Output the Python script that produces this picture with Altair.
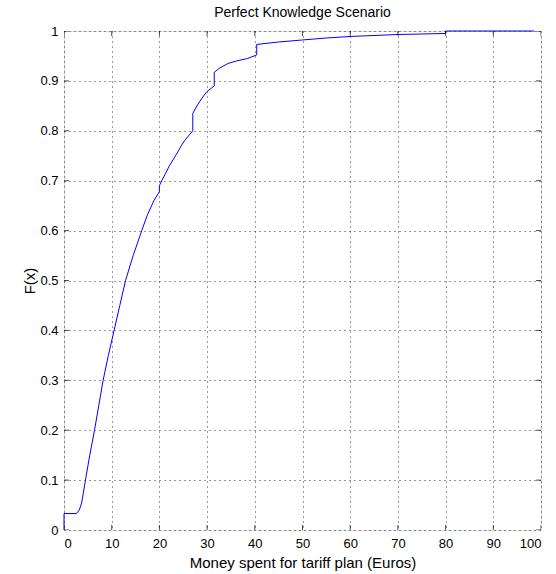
import altair as alt
import pandas as pd

money = [0, 0, 2.6, 3.2, 3.7, 4.5, 5.4, 6.4, 7.3, 8.2, 9.3, 10.5, 11.7, 12.9,
         14.5, 16.3, 17.5, 18.9, 20.0, 20.0, 20.5, 22.0, 24.0, 24.7, 25.5, 27.0,
         27.0, 28.0, 28.9, 29.9, 31.5, 31.5, 32.5, 34.4, 36.2, 38.5, 40.4, 40.4,
         45, 50, 55, 60, 65, 70, 75, 80, 80, 90, 98.5]
cdf = [0, 0.033, 0.033, 0.040, 0.054, 0.10, 0.15, 0.20, 0.25, 0.30, 0.35, 0.40,
       0.45, 0.50, 0.55, 0.60, 0.632, 0.661, 0.678, 0.690, 0.700, 0.728, 0.760,
       0.772, 0.783, 0.800, 0.835, 0.852, 0.865, 0.878, 0.890, 0.917, 0.925,
       0.935, 0.940, 0.945, 0.952, 0.973, 0.978, 0.982, 0.986, 0.989, 0.991,
       0.993, 0.994, 0.995, 1.0, 1.0, 1.0]
x_ticks = [0, 10, 20, 30, 40, 50, 60, 70, 80, 90, 100]
y_ticks = [0, 0.1, 0.2, 0.3, 0.4, 0.5, 0.6, 0.7, 0.8, 0.9, 1]

df = pd.DataFrame({"x": money, "F": cdf, "i": list(range(len(money)))})
xt = pd.DataFrame({"t": x_ticks})
yt = pd.DataFrame({"t": y_ticks})

FONT = "Liberation Sans"
W, H = 477, 499
xs = alt.Scale(domain=[0, 100], nice=False, zero=False)
ys = alt.Scale(domain=[0, 1], nice=False, zero=False)

main = alt.Chart(df).mark_line(color="#0000ff", strokeWidth=1).encode(
    x=alt.X("x:Q", scale=xs, axis=alt.Axis(
        orient="bottom", values=x_ticks, title="Money spent for tariff plan (Euros)",
        grid=True, gridColor="black", gridDash=[1, 4], gridOpacity=0.8,
        ticks=False, domain=False, labelPadding=7, labelFontSize=13,
        labelFont=FONT, labelColor="black", titleFont=FONT, titleFontSize=15,
        titleFontWeight="normal", titleColor="black", titlePadding=5,
        format="d")),
    y=alt.Y("F:Q", scale=ys, axis=alt.Axis(
        orient="left", values=y_ticks, title="F(x)",
        grid=True, gridColor="black", gridDash=[1, 4], gridOpacity=0.8,
        ticks=False, domain=False, labelPadding=6, labelFontSize=13,
        labelFont=FONT, labelColor="black", titleFont=FONT, titleFontSize=15,
        titleFontWeight="normal", titleColor="black", titlePadding=2,
        format=".1~f")),
    order="i:Q",
)

# inward tick marks on all four sides (half of each tick is clipped away)
xt_bottom = alt.Chart(xt).mark_tick(orient="vertical", size=10, thickness=1,
                                    color="black", clip=True).encode(
    x=alt.X("t:Q", scale=xs), y=alt.value(H))
xt_top = alt.Chart(xt).mark_tick(orient="vertical", size=10, thickness=1,
                                 color="black", clip=True).encode(
    x=alt.X("t:Q", scale=xs), y=alt.value(0))
yt_left = alt.Chart(yt).mark_tick(orient="horizontal", size=10, thickness=1,
                                  color="black", clip=True).encode(
    y=alt.Y("t:Q", scale=ys), x=alt.value(0))
yt_right = alt.Chart(yt).mark_tick(orient="horizontal", size=10, thickness=1,
                                   color="black", clip=True).encode(
    y=alt.Y("t:Q", scale=ys), x=alt.value(W))

chart = alt.layer(main, xt_bottom, xt_top, yt_left, yt_right).properties(
    width=W, height=H,
    title=alt.TitleParams("Perfect Knowledge Scenario", font=FONT, fontSize=14,
                          fontWeight="normal", color="black", anchor="middle", offset=5),
    autosize=alt.AutoSizeParams(type="none"),
    padding={"left": 64, "top": 31, "right": 15, "bottom": 44},
).configure_view(stroke="black", strokeWidth=1).configure(background="white")

chart.save("out.html", embed_options={"renderer": "svg", "actions": False})
